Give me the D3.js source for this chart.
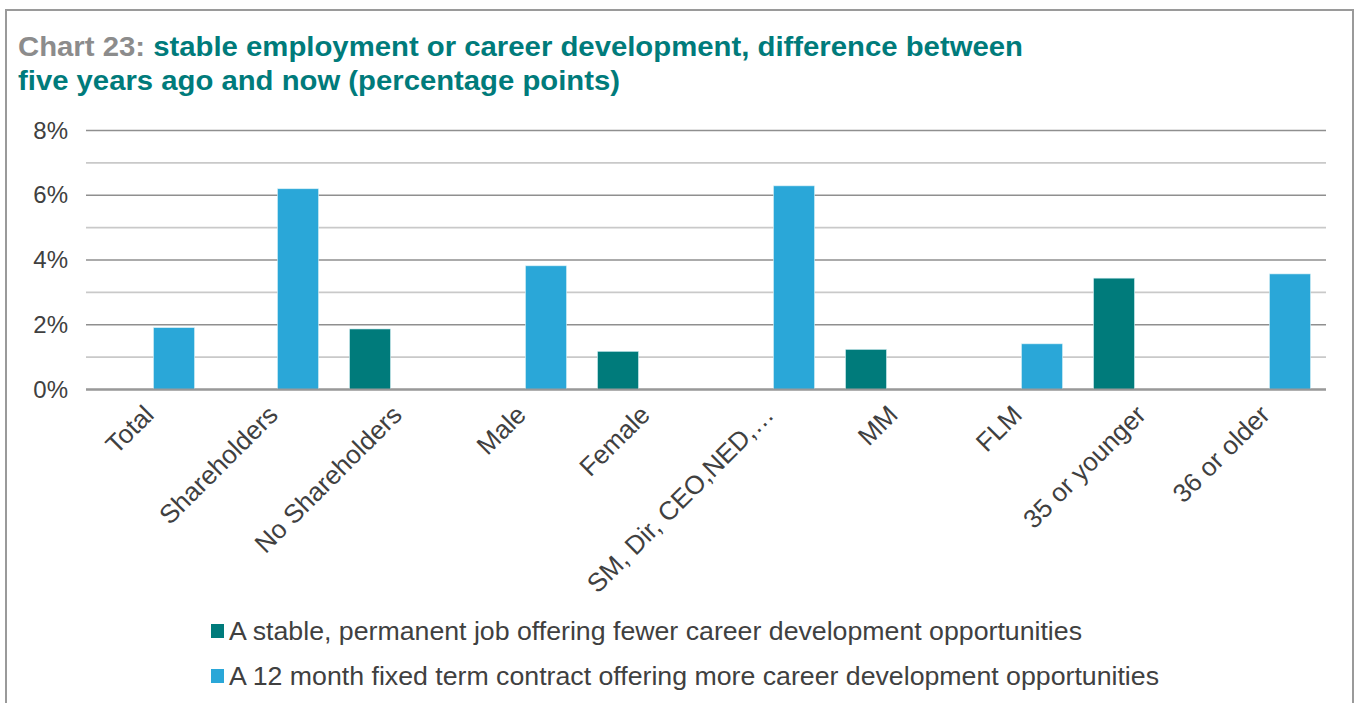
<!DOCTYPE html>
<html><head><meta charset="utf-8">
<script src="https://cdn.jsdelivr.net/npm/d3@7"></script>
<style>
body{margin:0;background:#fff;}
svg{display:block;font-family:"Liberation Sans",Arial,sans-serif;}
</style></head>
<body><svg id="c" width="1356" height="703"></svg>
<script>
const categories = ["Total","Shareholders","No Shareholders","Male","Female","SM, Dir, CEO,NED,\u2026","MM","FLM","35 or younger","36 or older"];
const stableValues = [0,0,1.87,0,1.18,0,1.24,0,3.44,0];
const contractValues = [1.91,6.2,0,3.82,0,6.29,0,1.41,0,3.57];
const seriesNames = ["A stable, permanent job offering fewer career development opportunities","A 12 month fixed term contract offering more career development opportunities"];
const seriesKeys = ["stable","contract"];
const seriesColors = ["#007b7b","#2aa7d8"];
const yTicks = [0,2,4,6,8];
const yGrid = [0,1,2,3,4,5,6,7,8];

const svg = d3.select("#c");
// frame
svg.append("rect").attr("x",6).attr("y",10).attr("width",1347).attr("height",720)
  .attr("fill","none").attr("stroke","#9a9a9a").attr("stroke-width",2);

// title
const t1 = svg.append("text").attr("x",18).attr("y",56).attr("font-size",27).attr("font-weight","bold")
  .attr("textLength",1005).attr("lengthAdjust","spacingAndGlyphs");
t1.append("tspan").attr("fill","#8c8c8c").text("Chart 23: ");
t1.append("tspan").attr("fill","#007b7b").text("stable employment or career development, difference between");
svg.append("text").attr("x",18).attr("y",90).attr("font-size",27).attr("font-weight","bold")
  .attr("textLength",602).attr("lengthAdjust","spacingAndGlyphs")
  .attr("fill","#007b7b").text("five years ago and now (percentage points)");

const x = d3.scaleBand().domain(categories).range([86,1326]).paddingInner(0).paddingOuter(0);
const xs = d3.scaleBand().domain(seriesKeys).range([0,x.bandwidth()]).paddingInner(0.2115).paddingOuter(0.298);
const y = d3.scaleLinear().domain([0,8]).range([389.5,130.5]);

// gridlines
svg.append("g").selectAll("line").data(yGrid).join("line")
  .attr("x1",86).attr("x2",1326)
  .attr("y1",d=>y(d)).attr("y2",d=>y(d))
  .attr("stroke",d=>d%2===0?"#8f8f8f":"#c9c9c9")
  .attr("stroke-width",d=>d===0?2:1.6);

// y labels
const yAxis = d3.axisLeft(y).tickValues(yTicks).tickFormat(d=>d+"%").tickSize(0).tickPadding(0);
const ya = svg.append("g").attr("transform","translate(68,0)").call(yAxis);
ya.select(".domain").remove();
ya.selectAll("text").attr("font-size",24).attr("fill","#404040").attr("font-family","Liberation Sans, Arial, sans-serif");

// bars
const rows = categories.map((c,i)=>({cat:c, stable:stableValues[i], contract:contractValues[i]}));
const g = svg.append("g");
rows.forEach(r=>{
  seriesKeys.forEach((k,j)=>{
    if(r[k]>0){
      g.append("rect")
        .attr("x",x(r.cat)+xs(k)).attr("width",xs.bandwidth())
        .attr("y",y(r[k])).attr("height",y(0)-y(r[k]))
        .attr("fill",seriesColors[j]).attr("stroke","#d8f0f6").attr("stroke-width",0.6);
    }
  });
});
// redraw zero line on top
svg.append("line").attr("x1",86).attr("x2",1326).attr("y1",y(0)).attr("y2",y(0))
  .attr("stroke","#999").attr("stroke-width",2);

// x labels
const xAxis = d3.axisBottom(x).tickSize(0).tickPadding(0);
const xa = svg.append("g").attr("transform","translate(0,392)").call(xAxis);
xa.select(".domain").remove();
xa.selectAll("text")
  .attr("font-size",26).attr("fill","#404040").attr("font-family","Liberation Sans, Arial, sans-serif")
  .attr("text-anchor","end")
  .attr("transform","translate(1,18) rotate(-45)")
  .attr("dy","0.35em").attr("y",0);

// legend
const leg = svg.append("g");
seriesNames.forEach((n,i)=>{
  const yy = 631 + i*45;
  leg.append("rect").attr("x",211).attr("y",yy-7).attr("width",13).attr("height",14).attr("fill",seriesColors[i]);
  leg.append("text").attr("x",229).attr("y",yy+9).attr("font-size",25).attr("fill","#404040")
    .attr("textLength", i===0?853:930).attr("lengthAdjust","spacingAndGlyphs").text(n);
});
</script></body></html>
